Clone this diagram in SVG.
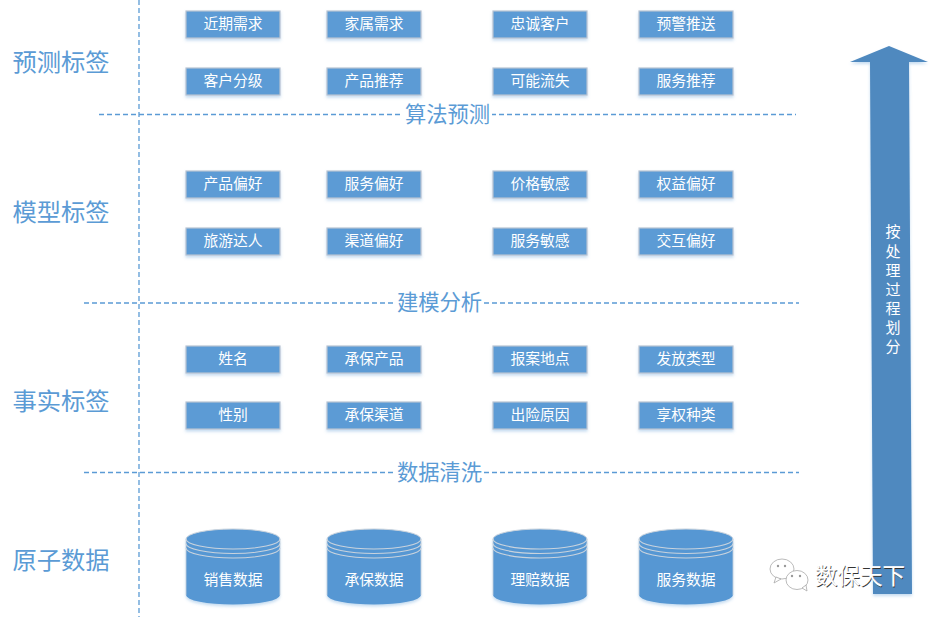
<svg xmlns="http://www.w3.org/2000/svg" width="937" height="617" viewBox="0 0 937 617">
<defs>
<style>
text{font-family:"Noto Sans CJK SC","Noto Sans",sans-serif}
.h{font-size:24.300px;fill:#5b9bd5;text-anchor:middle}
.t{font-size:14.800px;fill:#fff;text-anchor:middle}
.v{font-size:15px;fill:#fff;text-anchor:middle}
.m{font-size:21.300px;fill:#5b9bd5;text-anchor:middle}
.b{fill:#5b9bd5;stroke:#b8c4d2;stroke-width:1.2}
.d{stroke:#5b9bd5;stroke-width:1.3;stroke-dasharray:5 3;fill:none}
.c{fill:#5797d3}
.l{fill:none;stroke:#c9d3dd;stroke-width:1.1}
.w{fill:#fff;stroke:#aaa;stroke-width:.8}
</style>
<filter id="s" x="-10%" y="-20%" width="120%" height="150%"><feDropShadow dx="0" dy="2" stdDeviation="1.5" flood-color="#5b9bd5" flood-opacity=".35"/></filter>
<g id="cyl"><path class="c" filter="url(#s)" d="M0 10A47 10 0 0 1 94 10V66A47 9.500 0 0 1 0 66Z"/><path d="M0 10A47 10 0 0 1 94 10" fill="none" stroke="#c9d3dd" stroke-width="1"/><path class="l" d="M0 10A47 10 0 0 0 94 10M0 14.500A47 10 0 0 0 94 14.500M0 19A47 10 0 0 0 94 19"/><path d="M0 10V66M94 10V66" stroke="#c9d3dd" stroke-width=".8"/></g>
<rect id="box" class="b" width="94" height="27" filter="url(#s)"/>
</defs>
<rect width="937" height="617" fill="#fff"/>
<g id="connectors">
<path class="d" d="M139 0V617M99 114.500H796M84 303H799M84 472.500H799"/>
</g>
<g id="row-labels">
<text class="h" x="61" y="71">预测标签</text>
<text class="h" x="61" y="221">模型标签</text>
<text class="h" x="61" y="410">事实标签</text>
<text class="h" x="61" y="569">原子数据</text>
</g>
<g id="stage-labels">
<rect x="403" y="102" width="89" height="24" fill="#fff"/><text class="m" x="447.500" y="122">算法预测</text>
<rect x="395" y="291" width="89" height="24" fill="#fff"/><text class="m" x="439.500" y="310">建模分析</text>
<rect x="395" y="460" width="89" height="24" fill="#fff"/><text class="m" x="439.500" y="480">数据清洗</text>
</g>
<g id="n1"><use href="#box" x="186" y="11"/><text class="t" x="233" y="28.500">近期需求</text></g>
<g id="n2"><use href="#box" x="327" y="11"/><text class="t" x="374" y="28.500">家属需求</text></g>
<g id="n3"><use href="#box" x="493" y="11"/><text class="t" x="540" y="28.500">忠诚客户</text></g>
<g id="n4"><use href="#box" x="639" y="11"/><text class="t" x="686" y="28.500">预警推送</text></g>
<g id="n5"><use href="#box" x="186" y="68"/><text class="t" x="233" y="85.500">客户分级</text></g>
<g id="n6"><use href="#box" x="327" y="68"/><text class="t" x="374" y="85.500">产品推荐</text></g>
<g id="n7"><use href="#box" x="493" y="68"/><text class="t" x="540" y="85.500">可能流失</text></g>
<g id="n8"><use href="#box" x="639" y="68"/><text class="t" x="686" y="85.500">服务推荐</text></g>
<g id="n9"><use href="#box" x="186" y="171"/><text class="t" x="233" y="188.500">产品偏好</text></g>
<g id="n10"><use href="#box" x="327" y="171"/><text class="t" x="374" y="188.500">服务偏好</text></g>
<g id="n11"><use href="#box" x="493" y="171"/><text class="t" x="540" y="188.500">价格敏感</text></g>
<g id="n12"><use href="#box" x="639" y="171"/><text class="t" x="686" y="188.500">权益偏好</text></g>
<g id="n13"><use href="#box" x="186" y="228"/><text class="t" x="233" y="245.500">旅游达人</text></g>
<g id="n14"><use href="#box" x="327" y="228"/><text class="t" x="374" y="245.500">渠道偏好</text></g>
<g id="n15"><use href="#box" x="493" y="228"/><text class="t" x="540" y="245.500">服务敏感</text></g>
<g id="n16"><use href="#box" x="639" y="228"/><text class="t" x="686" y="245.500">交互偏好</text></g>
<g id="n17"><use href="#box" x="186" y="346"/><text class="t" x="233" y="363.500">姓名</text></g>
<g id="n18"><use href="#box" x="327" y="346"/><text class="t" x="374" y="363.500">承保产品</text></g>
<g id="n19"><use href="#box" x="493" y="346"/><text class="t" x="540" y="363.500">报案地点</text></g>
<g id="n20"><use href="#box" x="639" y="346"/><text class="t" x="686" y="363.500">发放类型</text></g>
<g id="n21"><use href="#box" x="186" y="402"/><text class="t" x="233" y="419.500">性别</text></g>
<g id="n22"><use href="#box" x="327" y="402"/><text class="t" x="374" y="419.500">承保渠道</text></g>
<g id="n23"><use href="#box" x="493" y="402"/><text class="t" x="540" y="419.500">出险原因</text></g>
<g id="n24"><use href="#box" x="639" y="402"/><text class="t" x="686" y="419.500">享权种类</text></g>
<g id="db1"><use href="#cyl" x="186" y="529"/><text class="t" x="233" y="585">销售数据</text></g>
<g id="db2"><use href="#cyl" x="327" y="529"/><text class="t" x="374" y="585">承保数据</text></g>
<g id="db3"><use href="#cyl" x="493" y="529"/><text class="t" x="540" y="585">理赔数据</text></g>
<g id="db4"><use href="#cyl" x="639" y="529"/><text class="t" x="686" y="585">服务数据</text></g>
<g id="process-arrow">
<path fill="#4f89bf" filter="url(#s)" d="M889 46L928 62H909L912 594H873L870 62H850Z"/>
<text class="v" x="893" y="237">按</text>
<text class="v" x="893" y="256.500">处</text>
<text class="v" x="893" y="275.500">理</text>
<text class="v" x="893" y="294.500">过</text>
<text class="v" x="893" y="313.500">程</text>
<text class="v" x="893" y="332.500">划</text>
<text class="v" x="893" y="351.500">分</text>
</g>
<g id="watermark">
<ellipse class="w" cx="782" cy="569" rx="12" ry="10"/>
<path class="w" d="M776 577l-2 6 7-4Z"/>
<ellipse class="w" cx="797" cy="580" rx="11" ry="9.500"/>
<path class="w" d="M802 588l5 3-1-6Z"/>
<g fill="#999"><circle cx="778" cy="566" r="1.200"/><circle cx="785" cy="566" r="1.200"/><circle cx="792" cy="576" r="1.200"/><circle cx="800" cy="576" r="1.200"/></g>
<text x="860" y="584" font-size="22.500" text-anchor="middle" fill="#333" transform="translate(.8 .8)">数保天下</text>
<text x="860" y="584" font-size="22.500" text-anchor="middle" fill="#fff" stroke="#fff" stroke-width=".2">数保天下</text>
</g>
</svg>
